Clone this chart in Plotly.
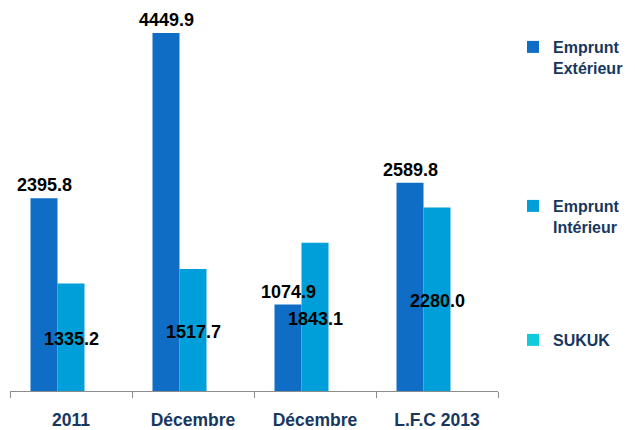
import plotly.graph_objects as go

categories = ["2011", "Décembre", "Décembre ", "L.F.C 2013"]
tick_labels = ["2011", "Décembre", "Décembre", "L.F.C 2013"]
emprunt_exterieur = [2395.8, 4449.9, 1074.9, 2589.8]
emprunt_interieur = [1335.2, 1517.7, 1843.1, 2280.0]
sukuk = [None, None, None, None]
series_names = ["Emprunt<br>Extérieur", "Emprunt<br>Intérieur", "SUKUK"]

FONT = "Liberation Sans, Arial, sans-serif"
NAVY = "#17375e"
W, H = 635, 430
BARGAP = 0.336

fig = go.Figure()
fig.add_trace(go.Bar(
    x=categories, y=emprunt_exterieur, name=series_names[0],
    marker=dict(color="#0f6dc6", line=dict(width=0)),
    legend="legend",
))
fig.add_trace(go.Bar(
    x=categories, y=emprunt_interieur, name=series_names[1],
    marker=dict(color="#009fd9", line=dict(width=0)),
    legend="legend2",
))
fig.add_trace(go.Bar(
    x=categories, y=sukuk, name=series_names[2],
    marker=dict(color="#10cbd9", line=dict(width=0)),
    legend="legend3",
))

slot = (1 - BARGAP) / 3
label_font = dict(family=FONT, size=18, color="black", weight="bold")
# first series: labels just above the bars
for i, v in enumerate(emprunt_exterieur):
    fig.add_annotation(
        x=i - slot, y=v, xref="x", yref="y", text=f"{v:.1f}", showarrow=False,
        yanchor="bottom", xanchor="center", yshift=1, font=label_font,
    )
# second series: labels centred inside the bars
for i, v in enumerate(emprunt_interieur):
    fig.add_annotation(
        x=i, y=v / 2, xref="x", yref="y", text=f"{v:.1f}", showarrow=False,
        yanchor="middle", xanchor="center", yshift=-2, font=label_font,
    )

legend_common = dict(
    xref="container", yref="container", x=513 / W, xanchor="left", yanchor="top",
    font=dict(family=FONT, size=16, color=NAVY, weight="bold"),
    bgcolor="rgba(0,0,0,0)", valign="top", itemclick=False, itemdoubleclick=False,
)
fig.update_layout(
    width=W, height=H,
    margin=dict(l=10, r=137, t=10, b=39, autoexpand=False),
    paper_bgcolor="white", plot_bgcolor="white",
    barmode="group", bargap=BARGAP, bargroupgap=0,
    hovermode=False, showlegend=True,
    legend=dict(**legend_common, y=1 - 30 / H),
    legend2=dict(**legend_common, y=1 - 189 / H),
    legend3=dict(**legend_common, y=1 - 323 / H),
    xaxis=dict(
        type="category", tickmode="array", tickvals=categories, ticktext=tick_labels,
        showline=True, linecolor="#8c8c8c", linewidth=1,
        ticks="outside", tickson="boundaries", ticklen=6, tickcolor="#8c8c8c",
        ticklabelstandoff=13, automargin=False,
        tickfont=dict(family=FONT, size=17.5, color=NAVY, weight="bold"),
        showgrid=False, zeroline=False,
    ),
    yaxis=dict(visible=False, range=[0, 4736], showgrid=False, zeroline=False),
    font=dict(family=FONT),
)
fig.write_html("out.html", config={"displayModeBar": False},
               post_script="document.body.style.margin='0';")
